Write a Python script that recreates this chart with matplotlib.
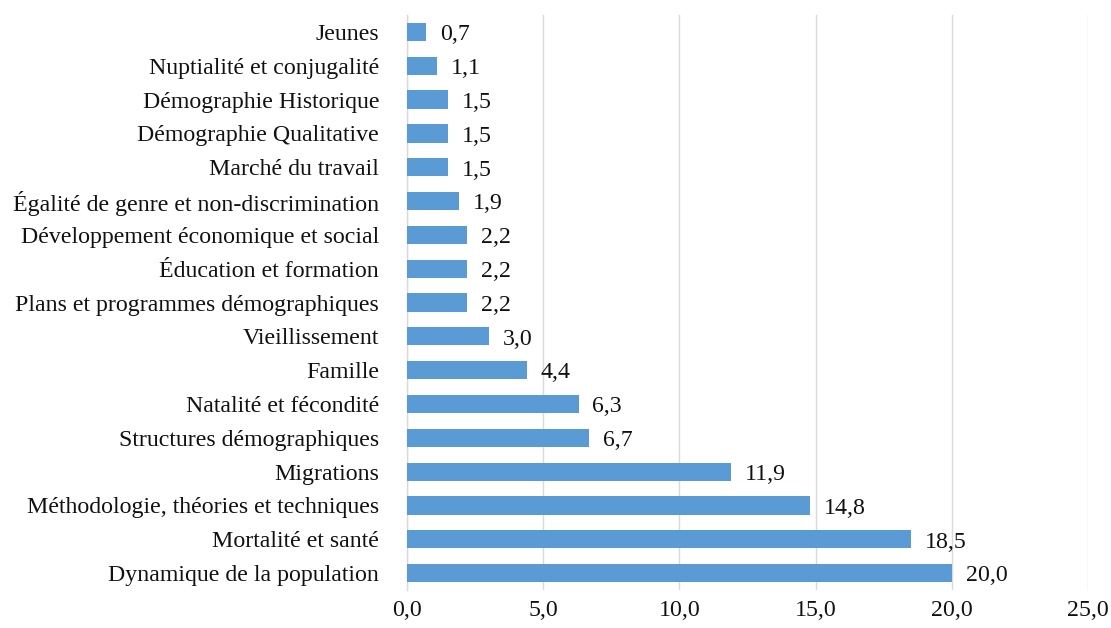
import matplotlib
matplotlib.use("Agg")
import matplotlib.pyplot as plt

categories = [
    "Jeunes",
    "Nuptialité et conjugalité",
    "Démographie Historique",
    "Démographie Qualitative",
    "Marché du travail",
    "Égalité de genre et non-discrimination",
    "Développement économique et social",
    "Éducation et formation",
    "Plans et programmes démographiques",
    "Vieillissement",
    "Famille",
    "Natalité et fécondité",
    "Structures démographiques",
    "Migrations",
    "Méthodologie, théories et techniques",
    "Mortalité et santé",
    "Dynamique de la population",
]
values = [0.7, 1.1, 1.5, 1.5, 1.5, 1.9, 2.2, 2.2, 2.2, 3.0, 4.4, 6.3, 6.7, 11.9, 14.8, 18.5, 20.0]
xticks = [0, 5, 10, 15, 20, 25]

plt.rcParams['font.family'] = ['Liberation Serif', 'DejaVu Serif']
FS = 17.2

fig = plt.figure(figsize=(11.11, 6.28), dpi=100)
ax = fig.add_axes([0.3663, 0.0605, 0.613, 0.9155])

ypos = list(range(len(categories)))
ax.barh(ypos, values, height=0.54, color='#5B9BD5', zorder=3)
ax.set_ylim(len(categories) - 0.5, -0.5)
ax.set_xlim(0, 25)
ax.set_yticks(ypos)
ax.set_yticklabels(categories, fontsize=FS, color='#111111')
ax.set_xticks(xticks)
ax.set_xticklabels([f"{t:.1f}".replace('.', ',') for t in xticks], fontsize=FS, color='#111111')
ax.tick_params(axis='y', length=0, pad=20)
ax.tick_params(axis='x', length=0, pad=7)

for v, y in zip(values, ypos):
    ax.annotate(f"{v:.1f}".replace('.', ','), xy=(v, y), xytext=(10, -2),
                textcoords='offset points', va='center', ha='left',
                fontsize=FS, color='#111111')

ax.grid(axis='x', color='#D9D9D9', linewidth=1, zorder=0)
for s in ['top', 'right', 'bottom']:
    ax.spines[s].set_visible(False)
ax.spines['left'].set_color('#D9D9D9')
ax.spines['left'].set_linewidth(1)

fig.savefig('out.png', dpi=100)
